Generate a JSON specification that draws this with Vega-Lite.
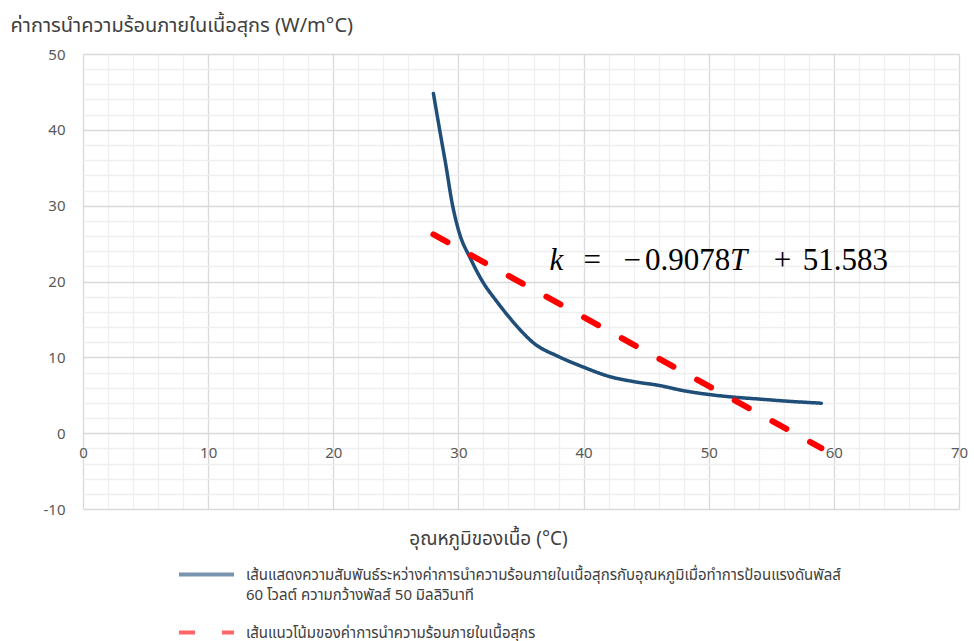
{
  "$schema": "https://vega.github.io/schema/vega-lite/v6.json",
  "width": 876,
  "height": 455,
  "autosize": {"type": "none"},
  "padding": {"left": 83, "top": 54, "right": 15, "bottom": 132},
  "background": "white",
  "config": {
    "view": {"stroke": null},
    "font": "Noto Sans Thai, Tahoma, Noto Sans, DejaVu Sans, sans-serif"
  },
  "datasets": {
    "lines": [
      {"series": "เส้นแสดงความสัมพันธ์ระหว่างค่าการนำความร้อนภายในเนื้อสุกรกับอุณหภูมิเมื่อทำการป้อนแรงดันพัลส์\n60 โวลต์ ความกว้างพัลส์ 50 มิลลิวินาที", "kind": "data", "T": 28, "k": 44.8},
      {"series": "เส้นแสดงความสัมพันธ์ระหว่างค่าการนำความร้อนภายในเนื้อสุกรกับอุณหภูมิเมื่อทำการป้อนแรงดันพัลส์\n60 โวลต์ ความกว้างพัลส์ 50 มิลลิวินาที", "kind": "data", "T": 28.5, "k": 40},
      {"series": "เส้นแสดงความสัมพันธ์ระหว่างค่าการนำความร้อนภายในเนื้อสุกรกับอุณหภูมิเมื่อทำการป้อนแรงดันพัลส์\n60 โวลต์ ความกว้างพัลส์ 50 มิลลิวินาที", "kind": "data", "T": 29, "k": 35.3},
      {"series": "เส้นแสดงความสัมพันธ์ระหว่างค่าการนำความร้อนภายในเนื้อสุกรกับอุณหภูมิเมื่อทำการป้อนแรงดันพัลส์\n60 โวลต์ ความกว้างพัลส์ 50 มิลลิวินาที", "kind": "data", "T": 29.5, "k": 30.3},
      {"series": "เส้นแสดงความสัมพันธ์ระหว่างค่าการนำความร้อนภายในเนื้อสุกรกับอุณหภูมิเมื่อทำการป้อนแรงดันพัลส์\n60 โวลต์ ความกว้างพัลส์ 50 มิลลิวินาที", "kind": "data", "T": 30, "k": 26.8},
      {"series": "เส้นแสดงความสัมพันธ์ระหว่างค่าการนำความร้อนภายในเนื้อสุกรกับอุณหภูมิเมื่อทำการป้อนแรงดันพัลส์\n60 โวลต์ ความกว้างพัลส์ 50 มิลลิวินาที", "kind": "data", "T": 31, "k": 22.9},
      {"series": "เส้นแสดงความสัมพันธ์ระหว่างค่าการนำความร้อนภายในเนื้อสุกรกับอุณหภูมิเมื่อทำการป้อนแรงดันพัลส์\n60 โวลต์ ความกว้างพัลส์ 50 มิลลิวินาที", "kind": "data", "T": 32, "k": 19.8},
      {"series": "เส้นแสดงความสัมพันธ์ระหว่างค่าการนำความร้อนภายในเนื้อสุกรกับอุณหภูมิเมื่อทำการป้อนแรงดันพัลส์\n60 โวลต์ ความกว้างพัลส์ 50 มิลลิวินาที", "kind": "data", "T": 33, "k": 17.5},
      {"series": "เส้นแสดงความสัมพันธ์ระหว่างค่าการนำความร้อนภายในเนื้อสุกรกับอุณหภูมิเมื่อทำการป้อนแรงดันพัลส์\n60 โวลต์ ความกว้างพัลส์ 50 มิลลิวินาที", "kind": "data", "T": 34, "k": 15.4},
      {"series": "เส้นแสดงความสัมพันธ์ระหว่างค่าการนำความร้อนภายในเนื้อสุกรกับอุณหภูมิเมื่อทำการป้อนแรงดันพัลส์\n60 โวลต์ ความกว้างพัลส์ 50 มิลลิวินาที", "kind": "data", "T": 35, "k": 13.5},
      {"series": "เส้นแสดงความสัมพันธ์ระหว่างค่าการนำความร้อนภายในเนื้อสุกรกับอุณหภูมิเมื่อทำการป้อนแรงดันพัลส์\n60 โวลต์ ความกว้างพัลส์ 50 มิลลิวินาที", "kind": "data", "T": 36, "k": 11.9},
      {"series": "เส้นแสดงความสัมพันธ์ระหว่างค่าการนำความร้อนภายในเนื้อสุกรกับอุณหภูมิเมื่อทำการป้อนแรงดันพัลส์\n60 โวลต์ ความกว้างพัลส์ 50 มิลลิวินาที", "kind": "data", "T": 38, "k": 10.1},
      {"series": "เส้นแสดงความสัมพันธ์ระหว่างค่าการนำความร้อนภายในเนื้อสุกรกับอุณหภูมิเมื่อทำการป้อนแรงดันพัลส์\n60 โวลต์ ความกว้างพัลส์ 50 มิลลิวินาที", "kind": "data", "T": 40, "k": 8.7},
      {"series": "เส้นแสดงความสัมพันธ์ระหว่างค่าการนำความร้อนภายในเนื้อสุกรกับอุณหภูมิเมื่อทำการป้อนแรงดันพัลส์\n60 โวลต์ ความกว้างพัลส์ 50 มิลลิวินาที", "kind": "data", "T": 42, "k": 7.5},
      {"series": "เส้นแสดงความสัมพันธ์ระหว่างค่าการนำความร้อนภายในเนื้อสุกรกับอุณหภูมิเมื่อทำการป้อนแรงดันพัลส์\n60 โวลต์ ความกว้างพัลส์ 50 มิลลิวินาที", "kind": "data", "T": 44, "k": 6.8},
      {"series": "เส้นแสดงความสัมพันธ์ระหว่างค่าการนำความร้อนภายในเนื้อสุกรกับอุณหภูมิเมื่อทำการป้อนแรงดันพัลส์\n60 โวลต์ ความกว้างพัลส์ 50 มิลลิวินาที", "kind": "data", "T": 46, "k": 6.3},
      {"series": "เส้นแสดงความสัมพันธ์ระหว่างค่าการนำความร้อนภายในเนื้อสุกรกับอุณหภูมิเมื่อทำการป้อนแรงดันพัลส์\n60 โวลต์ ความกว้างพัลส์ 50 มิลลิวินาที", "kind": "data", "T": 48, "k": 5.6},
      {"series": "เส้นแสดงความสัมพันธ์ระหว่างค่าการนำความร้อนภายในเนื้อสุกรกับอุณหภูมิเมื่อทำการป้อนแรงดันพัลส์\n60 โวลต์ ความกว้างพัลส์ 50 มิลลิวินาที", "kind": "data", "T": 50, "k": 5.1},
      {"series": "เส้นแสดงความสัมพันธ์ระหว่างค่าการนำความร้อนภายในเนื้อสุกรกับอุณหภูมิเมื่อทำการป้อนแรงดันพัลส์\n60 โวลต์ ความกว้างพัลส์ 50 มิลลิวินาที", "kind": "data", "T": 52, "k": 4.75},
      {"series": "เส้นแสดงความสัมพันธ์ระหว่างค่าการนำความร้อนภายในเนื้อสุกรกับอุณหภูมิเมื่อทำการป้อนแรงดันพัลส์\n60 โวลต์ ความกว้างพัลส์ 50 มิลลิวินาที", "kind": "data", "T": 54, "k": 4.5},
      {"series": "เส้นแสดงความสัมพันธ์ระหว่างค่าการนำความร้อนภายในเนื้อสุกรกับอุณหภูมิเมื่อทำการป้อนแรงดันพัลส์\n60 โวลต์ ความกว้างพัลส์ 50 มิลลิวินาที", "kind": "data", "T": 56, "k": 4.25},
      {"series": "เส้นแสดงความสัมพันธ์ระหว่างค่าการนำความร้อนภายในเนื้อสุกรกับอุณหภูมิเมื่อทำการป้อนแรงดันพัลส์\n60 โวลต์ ความกว้างพัลส์ 50 มิลลิวินาที", "kind": "data", "T": 59, "k": 3.95},
      {"series": "เส้นแนวโน้มของค่าการนำความร้อนภายในเนื้อสุกร", "kind": "trend", "T": 28, "k": 26.2},
      {"series": "เส้นแนวโน้มของค่าการนำความร้อนภายในเนื้อสุกร", "kind": "trend", "T": 59, "k": -1.98}
    ],
    "eq": [
      {"part": "k", "T": 37.28, "k": 21.52},
      {"part": "=", "T": 40.0, "k": 21.52},
      {"part": "−", "T": 43.2, "k": 21.52},
      {"part": "0.9078", "T": 44.9, "k": 21.52},
      {"part": "T", "T": 51.7, "k": 21.52},
      {"part": "+", "T": 55.2, "k": 21.52},
      {"part": "51.583", "T": 57.52, "k": 21.52}
    ]
  },
  "layer": [
    {
      "data": {"name": "lines"},
      "transform": [{"filter": "datum.kind === 'data'"}],
      "mark": {"type": "line", "interpolate": "monotone", "strokeWidth": 3.5, "strokeCap": "round", "clip": false},
      "encoding": {
        "x": {
          "field": "T", "type": "quantitative",
          "scale": {"domain": [0, 70], "nice": false, "zero": false},
          "axis": {
            "values": [0, 2, 4, 6, 8, 10, 12, 14, 16, 18, 20, 22, 24, 26, 28, 30, 32, 34, 36, 38, 40, 42, 44, 46, 48, 50, 52, 54, 56, 58, 60, 62, 64, 66, 68, 70],
            "tickCount": 200,
            "orient": "bottom",
            "offset": -75.8,
            "domain": false,
            "ticks": false,
            "labelFlush": false,
            "labelOverlap": false,
            "labelPadding": 12,
            "labelFontSize": 15,
            "labelColor": "#595959",
            "labelExpr": "datum.value % 10 === 0 ? '' + datum.value : ''",
            "gridColor": {"condition": {"test": "datum.value % 10 === 0", "value": "#d9d9d9"}, "value": "#efefef"},
            "gridWidth": 1.3,
            "title": "อุณหภูมิของเนื้อ (°C)",
            "titleX": 405,
            "titleY": 105,
            "titleAlign": "center",
            "titleBaseline": "middle",
            "titleFontSize": 19,
            "titleFontWeight": "normal",
            "titleColor": "#404040"
          }
        },
        "y": {
          "field": "k", "type": "quantitative",
          "scale": {"domain": [-10, 50], "nice": false, "zero": false},
          "axis": {
            "values": [-10, -8, -6, -4, -2, 0, 2, 4, 6, 8, 10, 12, 14, 16, 18, 20, 22, 24, 26, 28, 30, 32, 34, 36, 38, 40, 42, 44, 46, 48, 50],
            "tickCount": 200,
            "domain": false,
            "ticks": false,
            "labelOverlap": false,
            "labelFlush": false,
            "labelPadding": 18,
            "labelFontSize": 15,
            "labelColor": "#595959",
            "labelExpr": "datum.value % 10 === 0 ? '' + datum.value : ''",
            "gridColor": {"condition": {"test": "datum.value % 10 === 0", "value": "#d9d9d9"}, "value": "#efefef"},
            "gridWidth": 1.3,
            "title": "ค่าการนำความร้อนภายในเนื้อสุกร (W/m°C)",
            "titleAngle": 0,
            "titleX": -73,
            "titleY": -29,
            "titleAlign": "left",
            "titleBaseline": "middle",
            "titleFontSize": 20,
            "titleFontWeight": "normal",
            "titleColor": "#404040"
          }
        },
        "color": {
          "field": "series", "type": "nominal",
          "scale": {
            "domain": ["เส้นแสดงความสัมพันธ์ระหว่างค่าการนำความร้อนภายในเนื้อสุกรกับอุณหภูมิเมื่อทำการป้อนแรงดันพัลส์\n60 โวลต์ ความกว้างพัลส์ 50 มิลลิวินาที", "เส้นแนวโน้มของค่าการนำความร้อนภายในเนื้อสุกร"],
            "range": ["#1F4E79", "#FF0000"]
          },
          "legend": {
            "orient": "none", "legendX": 94, "legendY": 491, "title": null,
            "symbolType": "stroke", "symbolSize": 3025, "symbolStrokeWidth": 4, "symbolOpacity": 0.6,
            "labelFontSize": 15, "labelColor": "#404040", "labelLimit": 900,
            "labelExpr": "split(datum.label, '\\n')", "labelBaseline": "middle",
            "labelOffset": 10, "rowPadding": 0,
            "encoding": {"labels": {"lineHeight": {"value": 20}}}
          }
        },
        "strokeDash": {
          "field": "series", "type": "nominal",
          "scale": {
            "domain": ["เส้นแสดงความสัมพันธ์ระหว่างค่าการนำความร้อนภายในเนื้อสุกรกับอุณหภูมิเมื่อทำการป้อนแรงดันพัลส์\n60 โวลต์ ความกว้างพัลส์ 50 มิลลิวินาที", "เส้นแนวโน้มของค่าการนำความร้อนภายในเนื้อสุกร"],
            "range": [[1, 0], [16, 27]]
          },
          "legend": {
            "orient": "none", "legendX": 94, "legendY": 491, "title": null,
            "symbolType": "stroke", "symbolSize": 3025, "symbolStrokeWidth": 4, "symbolOpacity": 0.6,
            "labelFontSize": 15, "labelColor": "#404040", "labelLimit": 900,
            "labelExpr": "split(datum.label, '\\n')", "labelBaseline": "middle",
            "labelOffset": 10, "rowPadding": 0,
            "encoding": {"labels": {"lineHeight": {"value": 20}}}
          }
        }
      }
    },
    {
      "data": {"name": "lines"},
      "transform": [{"filter": "datum.kind === 'trend'"}],
      "mark": {"type": "line", "strokeWidth": 6, "strokeCap": "round", "clip": false},
      "encoding": {
        "x": {"field": "T", "type": "quantitative"},
        "y": {"field": "k", "type": "quantitative"},
        "color": {"field": "series", "type": "nominal"},
        "strokeDash": {"field": "series", "type": "nominal"}
      }
    },
    {
      "data": {"name": "eq"},
      "transform": [{"filter": "datum.part === 'k' || datum.part === 'T'"}],
      "mark": {"type": "text", "font": "Liberation Serif", "fontSize": 31, "fontStyle": "italic", "align": "left", "baseline": "alphabetic", "color": "#000000"},
      "encoding": {
        "x": {"field": "T", "type": "quantitative"},
        "y": {"field": "k", "type": "quantitative"},
        "text": {"field": "part"}
      }
    },
    {
      "data": {"name": "eq"},
      "transform": [{"filter": "datum.part !== 'k' && datum.part !== 'T'"}],
      "mark": {"type": "text", "font": "Liberation Serif", "fontSize": 31, "align": "left", "baseline": "alphabetic", "color": "#000000"},
      "encoding": {
        "x": {"field": "T", "type": "quantitative"},
        "y": {"field": "k", "type": "quantitative"},
        "text": {"field": "part"}
      }
    }
  ]
}
